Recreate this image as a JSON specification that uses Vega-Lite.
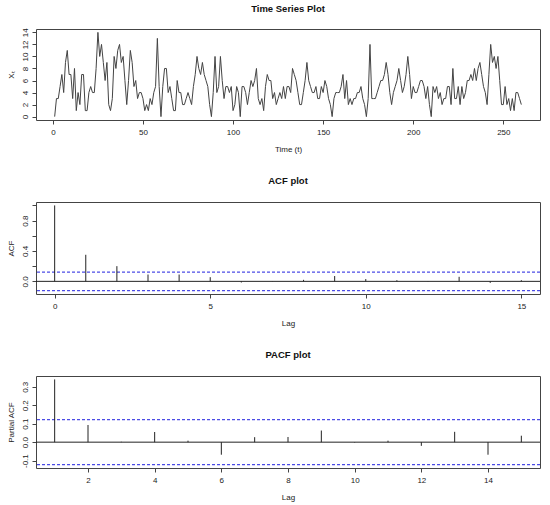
{
  "$schema": "https://vega.github.io/schema/vega-lite/v6.json",
  "background": "white",
  "padding": {"left": 6, "top": 3, "right": 4, "bottom": 4},
  "spacing": 82,
  "bounds": "flush",
  "config": {
    "font": "Liberation Sans",
    "view": {"stroke": "#444", "strokeWidth": 1},
    "axis": {
      "domain": false, "grid": false, "tickColor": "#444", "tickSize": 4,
      "labelFontSize": 8, "labelColor": "#222", "titleFontSize": 8,
      "titleFontWeight": "normal", "titleColor": "#222", "labelOverlap": false
    },
    "axisX": {"labelPadding": 4, "titlePadding": 9},
    "axisY": {"labelAngle": -90, "labelAlign": "center", "labelBaseline": "bottom", "labelPadding": 3, "titlePadding": 6},
    "title": {"fontSize": 9.5, "fontWeight": "bold", "anchor": "middle", "color": "#111"}
  },
  "datasets": {
    "ts": [
      {"t":1,"x":0},{"t":2,"x":3},{"t":3,"x":3},{"t":4,"x":5},{"t":5,"x":7},{"t":6,"x":4},{"t":7,"x":9},{"t":8,"x":11},{"t":9,"x":7},{"t":10,"x":7},
      {"t":11,"x":3},{"t":12,"x":8},{"t":13,"x":1},{"t":14,"x":4},{"t":15,"x":2},{"t":16,"x":7},{"t":17,"x":7},{"t":18,"x":1},{"t":19,"x":1},{"t":20,"x":4},
      {"t":21,"x":5},{"t":22,"x":4},{"t":23,"x":4},{"t":24,"x":8},{"t":25,"x":14},{"t":26,"x":10},{"t":27,"x":12},{"t":28,"x":9},{"t":29,"x":6},{"t":30,"x":9},
      {"t":31,"x":2},{"t":32,"x":1},{"t":33,"x":3},{"t":34,"x":10},{"t":35,"x":8},{"t":36,"x":11},{"t":37,"x":12},{"t":38,"x":9},{"t":39,"x":10},{"t":40,"x":6},
      {"t":41,"x":2},{"t":42,"x":6},{"t":43,"x":11},{"t":44,"x":9},{"t":45,"x":5},{"t":46,"x":6},{"t":47,"x":3},{"t":48,"x":4},{"t":49,"x":4},{"t":50,"x":3},
      {"t":51,"x":1},{"t":52,"x":2},{"t":53,"x":1},{"t":54,"x":3},{"t":55,"x":2},{"t":56,"x":4},{"t":57,"x":5},{"t":58,"x":13},{"t":59,"x":5},{"t":60,"x":0},
      {"t":61,"x":5},{"t":62,"x":8},{"t":63,"x":8},{"t":64,"x":4},{"t":65,"x":5},{"t":66,"x":3},{"t":67,"x":1},{"t":68,"x":1},{"t":69,"x":6},{"t":70,"x":4},
      {"t":71,"x":4},{"t":72,"x":2},{"t":73,"x":2},{"t":74,"x":3},{"t":75,"x":4},{"t":76,"x":3},{"t":77,"x":2},{"t":78,"x":5},{"t":79,"x":7},{"t":80,"x":10},
      {"t":81,"x":8},{"t":82,"x":7},{"t":83,"x":9},{"t":84,"x":7},{"t":85,"x":6},{"t":86,"x":5},{"t":87,"x":2},{"t":88,"x":0},{"t":89,"x":4},{"t":90,"x":10},
      {"t":91,"x":4},{"t":92,"x":5},{"t":93,"x":10},{"t":94,"x":6},{"t":95,"x":3},{"t":96,"x":5},{"t":97,"x":5},{"t":98,"x":4},{"t":99,"x":5},{"t":100,"x":1},
      {"t":101,"x":2},{"t":102,"x":5},{"t":103,"x":4},{"t":104,"x":0},{"t":105,"x":5},{"t":106,"x":5},{"t":107,"x":4},{"t":108,"x":2},{"t":109,"x":4},{"t":110,"x":6},
      {"t":111,"x":5},{"t":112,"x":6},{"t":113,"x":8},{"t":114,"x":3},{"t":115,"x":2},{"t":116,"x":3},{"t":117,"x":1},{"t":118,"x":5},{"t":119,"x":7},{"t":120,"x":6},
      {"t":121,"x":6},{"t":122,"x":3},{"t":123,"x":4},{"t":124,"x":2},{"t":125,"x":3},{"t":126,"x":4},{"t":127,"x":3},{"t":128,"x":5},{"t":129,"x":3},{"t":130,"x":5},
      {"t":131,"x":5},{"t":132,"x":4},{"t":133,"x":8},{"t":134,"x":7},{"t":135,"x":6},{"t":136,"x":4},{"t":137,"x":2},{"t":138,"x":2},{"t":139,"x":4},{"t":140,"x":6},
      {"t":141,"x":9},{"t":142,"x":6},{"t":143,"x":5},{"t":144,"x":4},{"t":145,"x":4},{"t":146,"x":5},{"t":147,"x":3},{"t":148,"x":3},{"t":149,"x":5},{"t":150,"x":4},
      {"t":151,"x":6},{"t":152,"x":5},{"t":153,"x":3},{"t":154,"x":2},{"t":155,"x":0},{"t":156,"x":3},{"t":157,"x":4},{"t":158,"x":4},{"t":159,"x":4},{"t":160,"x":5},
      {"t":161,"x":7},{"t":162,"x":3},{"t":163,"x":6},{"t":164,"x":2},{"t":165,"x":3},{"t":166,"x":2},{"t":167,"x":3},{"t":168,"x":3},{"t":169,"x":4},{"t":170,"x":4},
      {"t":171,"x":5},{"t":172,"x":3},{"t":173,"x":2},{"t":174,"x":0},{"t":175,"x":3},{"t":176,"x":12},{"t":177,"x":3},{"t":178,"x":3},{"t":179,"x":3},{"t":180,"x":4},
      {"t":181,"x":5},{"t":182,"x":6},{"t":183,"x":6},{"t":184,"x":7},{"t":185,"x":9},{"t":186,"x":7},{"t":187,"x":4},{"t":188,"x":2},{"t":189,"x":4},{"t":190,"x":5},
      {"t":191,"x":6},{"t":192,"x":8},{"t":193,"x":6},{"t":194,"x":4},{"t":195,"x":5},{"t":196,"x":7},{"t":197,"x":10},{"t":198,"x":7},{"t":199,"x":3},{"t":200,"x":5},
      {"t":201,"x":4},{"t":202,"x":4},{"t":203,"x":5},{"t":204,"x":6},{"t":205,"x":6},{"t":206,"x":5},{"t":207,"x":3},{"t":208,"x":5},{"t":209,"x":2},{"t":210,"x":0},
      {"t":211,"x":5},{"t":212,"x":4},{"t":213,"x":5},{"t":214,"x":3},{"t":215,"x":4},{"t":216,"x":2},{"t":217,"x":3},{"t":218,"x":3},{"t":219,"x":5},{"t":220,"x":5},
      {"t":221,"x":2},{"t":222,"x":8},{"t":223,"x":3},{"t":224,"x":3},{"t":225,"x":5},{"t":226,"x":2},{"t":227,"x":5},{"t":228,"x":3},{"t":229,"x":4},{"t":230,"x":6},
      {"t":231,"x":6},{"t":232,"x":7},{"t":233,"x":6},{"t":234,"x":8},{"t":235,"x":6},{"t":236,"x":8},{"t":237,"x":9},{"t":238,"x":7},{"t":239,"x":5},{"t":240,"x":4},
      {"t":241,"x":2},{"t":242,"x":7},{"t":243,"x":12},{"t":244,"x":9},{"t":245,"x":10},{"t":246,"x":8},{"t":247,"x":10},{"t":248,"x":6},{"t":249,"x":2},{"t":250,"x":2},
      {"t":251,"x":5},{"t":252,"x":2},{"t":253,"x":3},{"t":254,"x":1},{"t":255,"x":3},{"t":256,"x":1},{"t":257,"x":4},{"t":258,"x":4},{"t":259,"x":3},{"t":260,"x":2}
    ],
    "acf": [
      {"lag":0,"acf":1.0},{"lag":1,"acf":0.35},{"lag":2,"acf":0.2},{"lag":3,"acf":0.09},
      {"lag":4,"acf":0.09},{"lag":5,"acf":0.055},{"lag":6,"acf":-0.015},{"lag":7,"acf":0.003},
      {"lag":8,"acf":0.02},{"lag":9,"acf":0.07},{"lag":10,"acf":0.03},{"lag":11,"acf":0.015},
      {"lag":12,"acf":0.003},{"lag":13,"acf":0.06},{"lag":14,"acf":-0.02},{"lag":15,"acf":0.015}
    ],
    "pacf": [
      {"lag":1,"pacf":0.34},{"lag":2,"pacf":0.093},{"lag":3,"pacf":0.002},{"lag":4,"pacf":0.055},
      {"lag":5,"pacf":0.008},{"lag":6,"pacf":-0.068},{"lag":7,"pacf":0.027},{"lag":8,"pacf":0.028},
      {"lag":9,"pacf":0.063},{"lag":10,"pacf":-0.002},{"lag":11,"pacf":0.008},{"lag":12,"pacf":-0.02},
      {"lag":13,"pacf":0.056},{"lag":14,"pacf":-0.068},{"lag":15,"pacf":0.035}
    ],
    "ci": [{"bound": 0.1216}, {"bound": -0.1216}],
    "zero": [{"level": 0}]
  },
  "vconcat": [
    {
      "width": 504,
      "height": 91,
      "title": {"text": "Time Series Plot", "offset": 14},
      "data": {"name": "ts"},
      "mark": {"type": "line", "color": "#444", "strokeWidth": 1},
      "encoding": {
        "x": {
          "field": "t", "type": "quantitative",
          "scale": {"domain": [-9.36, 270.36], "nice": false, "zero": false},
          "axis": {"values": [0, 50, 100, 150, 200, 250], "title": "Time (t)"}
        },
        "y": {
          "field": "x", "type": "quantitative",
          "scale": {"domain": [-0.56, 14.56], "nice": false},
          "axis": {"values": [0, 2, 4, 6, 8, 10, 12, 14], "title": "Xₜ", "labelOverlap": false}
        }
      }
    },
    {
      "width": 504,
      "height": 92,
      "title": {"text": "ACF plot", "offset": 17},
      "encoding": {
        "y": {
          "type": "quantitative",
          "scale": {"domain": [-0.1665, 1.0449], "nice": false},
          "axis": {
            "values": [0, 0.2, 0.4, 0.6, 0.8, 1],
            "labelExpr": "datum.value == 0 || datum.value == 0.4 || datum.value == 0.8 ? format(datum.value, '.1f') : ''",
            "labelOverlap": false,
            "title": "ACF"
          }
        }
      },
      "layer": [
        {
          "data": {"name": "zero"},
          "mark": {"type": "rule", "color": "#222", "strokeWidth": 1},
          "encoding": {"y": {"field": "level"}}
        },
        {
          "data": {"name": "ci"},
          "mark": {"type": "rule", "stroke": "#4c4ce6", "strokeDash": [3, 2], "strokeWidth": 1.2},
          "encoding": {"y": {"field": "bound"}}
        },
        {
          "data": {"name": "acf"},
          "mark": {"type": "rule", "color": "#222", "strokeWidth": 1},
          "encoding": {
            "x": {
              "field": "lag", "type": "quantitative",
              "scale": {"domain": [-0.6, 15.6], "nice": false, "zero": false},
              "axis": {"values": [0, 5, 10, 15], "title": "Lag"}
            },
            "y": {"field": "acf"},
            "y2": {"datum": 0}
          }
        }
      ]
    },
    {
      "width": 504,
      "height": 92,
      "title": {"text": "PACF plot", "offset": 17},
      "encoding": {
        "y": {
          "type": "quantitative",
          "scale": {"domain": [-0.14, 0.3585], "nice": false},
          "axis": {
            "values": [-0.1, 0, 0.1, 0.2, 0.3],
            "labelExpr": "replace(format(datum.value, '.1f'), '\u2212', '-')",
            "labelOverlap": false,
            "title": "Partial ACF"
          }
        }
      },
      "layer": [
        {
          "data": {"name": "zero"},
          "mark": {"type": "rule", "color": "#222", "strokeWidth": 1},
          "encoding": {"y": {"field": "level"}}
        },
        {
          "data": {"name": "ci"},
          "mark": {"type": "rule", "stroke": "#4c4ce6", "strokeDash": [3, 2], "strokeWidth": 1.2},
          "encoding": {"y": {"field": "bound"}}
        },
        {
          "data": {"name": "pacf"},
          "mark": {"type": "rule", "color": "#222", "strokeWidth": 1},
          "encoding": {
            "x": {
              "field": "lag", "type": "quantitative",
              "scale": {"domain": [0.44, 15.56], "nice": false, "zero": false},
              "axis": {"values": [2, 4, 6, 8, 10, 12, 14], "title": "Lag"}
            },
            "y": {"field": "pacf"},
            "y2": {"datum": 0}
          }
        }
      ]
    }
  ]
}
